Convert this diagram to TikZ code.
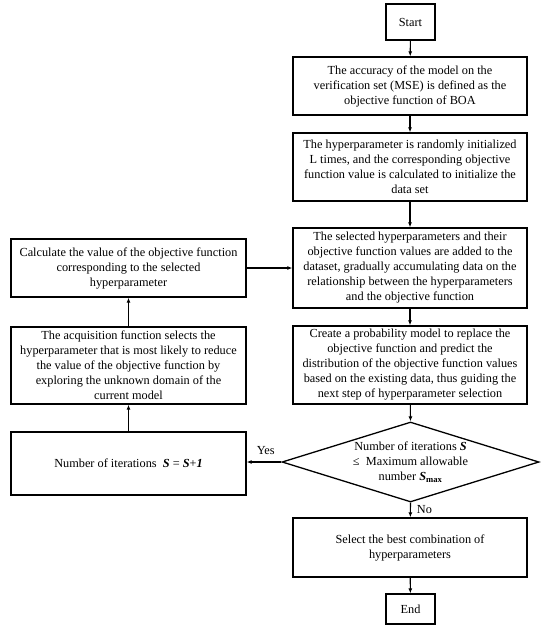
\documentclass[tikz,border=0pt]{standalone}
\usepackage{fontspec}
\setmainfont{Liberation Serif}
\usetikzlibrary{arrows.meta,shapes.geometric}
\newcommand{\bS}{\textbf{\textit{S}}}
\begin{document}
\begin{tikzpicture}[x=1pt,y=-1pt,
  every node/.style={font=\fontsize{12.3}{15}\selectfont},
  box/.style={draw,line width=1.3pt,align=center,inner sep=0pt,minimum width=234pt},
  lbox/.style={draw,line width=1.3pt,align=center,inner sep=0pt,minimum width=235pt},
  term/.style={draw,line width=1.3pt,align=center,inner sep=0pt,minimum width=49pt},
  conn/.style={line width=1.1pt,-{Latex[length=5pt,width=4pt]}},
  lab/.style={inner sep=0pt}]
\useasboundingbox (0,0) rectangle (550,633);
\node[term,minimum height=36pt] (start) at (410.5,22) {Start};
\node[box,minimum height=58pt] (b1) at (410,86) {The accuracy of the model on the\\verification set (MSE) is defined as the\\objective function of BOA};
\node[box,minimum height=68pt] (b2) at (410,167) {The hyperparameter is randomly initialized\\L times, and the corresponding objective\\function value is calculated to initialize the\\data set};
\node[box,minimum height=80pt] (b3) at (410,268) {The selected hyperparameters and their\\objective function values are added to the\\dataset, gradually accumulating data on the\\relationship between the hyperparameters\\and the objective function};
\node[box,minimum height=78pt] (b4) at (410,365) {Create a probability model to replace the\\objective function and predict the\\distribution of the objective function values\\based on the existing data, thus guiding the\\next step of hyperparameter selection};
\node[diamond,draw,line width=1.3pt,inner sep=0pt,minimum width=257pt,minimum height=80pt,
  label={[align=center]center:Number of iterations \bS\\≤\ \ Maximum allowable\\number \bS\textsubscript{\textbf{max}}}] (dia) at (410.5,462) {};
\node[box,minimum height=59pt] (sel) at (410,547.5) {Select the best combination of\\hyperparameters};
\node[term,minimum height=30pt] (end) at (410.5,609) {End};
\node[lbox,minimum height=58pt] (l1) at (128.5,268) {Calculate the value of the objective function\\corresponding to the selected\\hyperparameter};
\node[lbox,minimum height=77pt] (l2) at (128.5,365.5) {The acquisition function selects the\\hyperparameter that is most likely to reduce\\the value of the objective function by\\exploring the unknown domain of the\\current model};
\node[lbox,minimum height=63pt] (l3) at (128.5,463.5) {Number of iterations\ \ \bS\ = \bS+\textbf{\textit{1}}};
\draw[conn] (start) -- (b1);
\draw[conn] (b1) -- (b2);
\draw[conn] (b2) -- (b3);
\draw[conn] (b3) -- (b4);
\draw[conn] (b4) -- (dia.north);
\draw[conn] (dia.south) -- node[lab,right=6pt,pos=0.45] (no) {No} (sel);
\draw[conn] (sel) -- (end);
\draw[conn] (dia.west) -- node[lab,above=7pt,pos=0.45] (yes) {Yes} (l3.east |- dia.west);
\draw[conn] (l3) -- (l2);
\draw[conn] (l2) -- (l1);
\draw[conn] (l1) -- (l1 -| b3.west);
\end{tikzpicture}
\end{document}
